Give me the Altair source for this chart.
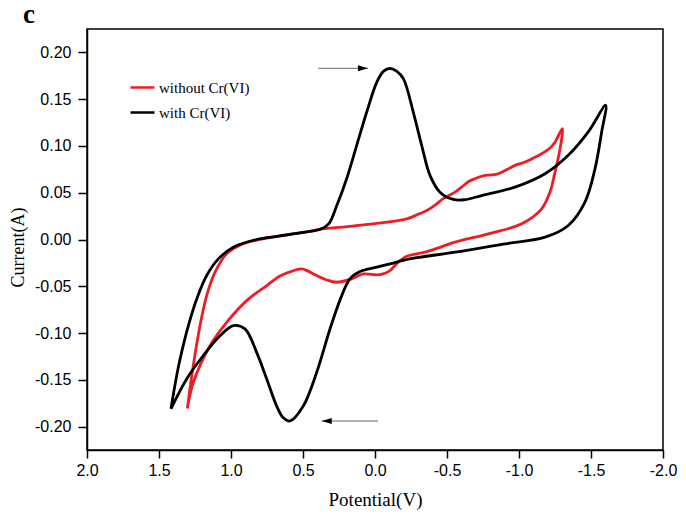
import altair as alt
import pandas as pd

# ---- data ----
# with Cr(VI): (Potential V, Current A) in scan order
with_v = [1.417, 1.385, 1.354, 1.296, 1.238, 1.169, 1.088, 0.984, 0.822, 0.671, 0.50, 0.38, 0.32, 0.266,
          0.197, 0.127, 0.058, -0.012, -0.06, -0.104, -0.15, -0.197, -0.266, -0.324, -0.382, -0.451,
          -0.544, -0.62, -0.741, -0.972, -1.181, -1.342, -1.481, -1.602,
          -1.574, -1.528, -1.458, -1.342, -1.181, -0.903, -0.556, -0.241, -0.104, -0.012, 0.104, 0.174,
          0.231, 0.3125, 0.405, 0.498, 0.590, 0.64, 0.683, 0.752, 0.822, 0.903, 0.984, 1.076, 1.192,
          1.308, 1.417]
with_i = [-0.181, -0.152, -0.128, -0.092, -0.0635, -0.0385, -0.0207, -0.0082, 0.000, 0.0036, 0.0075, 0.011, 0.017, 0.036,
          0.065, 0.1006, 0.136, 0.168, 0.180, 0.183, 0.180, 0.172, 0.136, 0.1006, 0.0685, 0.0506,
          0.0428, 0.0425, 0.047, 0.056, 0.0703, 0.090, 0.115, 0.1435,
          0.115, 0.0757, 0.040, 0.015, 0.0025, -0.0046, -0.0136, -0.0207, -0.026, -0.0296, -0.0343, -0.042,
          -0.060, -0.0956, -0.142, -0.178, -0.194, -0.190, -0.178, -0.149, -0.1206, -0.0956, -0.092, -0.103, -0.124,
          -0.149, -0.181]

# without Cr(VI)
without_v = [1.303, 1.262, 1.215, 1.169, 1.111, 1.030, 0.915, 0.80, 0.671, 0.50, 0.38, 0.222, 0.0, -0.15,
             -0.22, -0.30, -0.36, -0.42, -0.474, -0.556, -0.602, -0.65, -0.694, -0.764, -0.81, -0.856,
             -0.92, -0.972, -1.042, -1.10, -1.157, -1.21, -1.25, -1.301,
             -1.285, -1.25, -1.215, -1.157, -1.019, -0.787, -0.556, -0.36, -0.22, -0.15, -0.104, -0.05,
             -0.012, 0.081, 0.162, 0.266, 0.34, 0.405, 0.509, 0.58, 0.660, 0.752, 0.891, 1.030, 1.146,
             1.262, 1.303]
without_i = [-0.1806, -0.135, -0.092, -0.060, -0.035, -0.0153, -0.0046, 0.000, 0.0036, 0.0075, 0.0110, 0.0132, 0.017, 0.020,
             0.022, 0.027, 0.031, 0.037, 0.0436, 0.0506, 0.056, 0.062, 0.065, 0.0685, 0.069, 0.0703,
             0.075, 0.0792, 0.0828, 0.087, 0.0917, 0.097, 0.104, 0.1185,
             0.097, 0.072, 0.0506, 0.0328, 0.0168, 0.0061, -0.0029, -0.013, -0.018, -0.026, -0.0332, -0.037,
             -0.0378, -0.0368, -0.042, -0.0457, -0.043, -0.0385, -0.0314, -0.034, -0.039, -0.0493, -0.0653, -0.0885, -0.1135,
             -0.153, -0.1806]

series_names = ["without Cr(VI)", "with Cr(VI)"]
series_colors = ["#ee1c24", "#000000"]

# scan-direction arrows (potential range, current level)
arrow_y = [0.183, -0.194]
arrow_from = [0.394, -0.021]
arrow_to = [0.049, 0.370]
arrow_dir = ["right", "left"]

panel_label = ["c"]

x_ticks = [round(-2.0 + 0.25 * k, 2) for k in range(17)]
y_ticks = [round(-0.2 + 0.025 * k, 3) for k in range(17)]

# ---- build tables ----
rows = []
for k, (v, i) in enumerate(zip(without_v, without_i)):
    rows.append({"V": v, "I": i, "series": series_names[0], "idx": k})
for k, (v, i) in enumerate(zip(with_v, with_i)):
    rows.append({"V": v, "I": i, "series": series_names[1], "idx": k})
df = pd.DataFrame(rows)

arr = pd.DataFrame({"y": arrow_y, "x1": arrow_from, "x2": arrow_to, "dir": arrow_dir})

MINUS = "\u2212"
x_major = "abs(datum.value*2 - round(datum.value*2)) < 1e-6"
y_major = "abs(datum.value*20 - round(datum.value*20)) < 1e-6"

x_scale = alt.Scale(domain=[-2.0, 2.0], reverse=True, nice=False, zero=False)
y_scale = alt.Scale(domain=[-0.225, 0.225], nice=False, zero=False)

x_axis = alt.Axis(
    values=x_ticks,
    labelExpr=f"{x_major} ? replace(format(datum.value, '.1f'), '{MINUS}', '-') : ''",
    tickSize={"condition": {"test": x_major, "value": 8}, "value": 5},
    labelOverlap=False, labelFlush=False, grid=False,
    labelFont="Liberation Sans", labelFontSize=16, labelPadding=4,
    title="Potential(V)", titleFont="Liberation Serif", titleFontSize=19,
    titleFontWeight="normal", titlePadding=12,
)
y_axis = alt.Axis(
    values=y_ticks,
    labelExpr=f"{y_major} ? replace(format(datum.value, '.2f'), '{MINUS}', '-') : ''",
    tickSize={"condition": {"test": y_major, "value": 9}, "value": 5},
    labelOverlap=False, labelFlush=False, grid=False,
    labelFont="Liberation Sans", labelFontSize=16, labelPadding=7,
    title="Current(A)", titleFont="Liberation Serif", titleFontSize=18,
    titleFontWeight="normal", titlePadding=7, titleY=218,
)

lines = alt.Chart(df).mark_line(strokeWidth=2.8, interpolate="catmull-rom").encode(
    x=alt.X("V:Q", scale=x_scale, axis=x_axis),
    y=alt.Y("I:Q", scale=y_scale, axis=y_axis),
    color=alt.Color(
        "series:N",
        scale=alt.Scale(domain=series_names, range=series_colors),
        legend=alt.Legend(
            orient="none", legendX=42, legendY=45, title=None, padding=0,
            symbolType="stroke", symbolSize=576, symbolStrokeWidth=2.5,
            labelFont="Liberation Serif", labelFontSize=15, labelColor="black",
            labelOffset=3, rowPadding=3,
        ),
    ),
    order="idx:Q",
)

arrow_lines = alt.Chart(arr).mark_rule(color="#666666", strokeWidth=1).encode(
    x="x1:Q", x2="x2:Q", y="y:Q"
)

head_right = "M0,0L-2,-0.6L-2,0.6Z"
head_left = "M0,0L2,-0.6L2,0.6Z"
arrow_heads = alt.Chart(arr).mark_point(filled=True, size=100, color="black", opacity=1).encode(
    x="x2:Q", y="y:Q",
    shape=alt.Shape("dir:N", scale=alt.Scale(domain=["right", "left"], range=[head_right, head_left]), legend=None),
)

label = alt.Chart(pd.DataFrame({"t": panel_label})).mark_text(
    font="Liberation Serif", fontSize=27, fontWeight="bold", color="black",
    align="left", baseline="alphabetic",
).encode(text="t:N", x=alt.value(-64), y=alt.value(-6))

chart = alt.layer(lines, arrow_lines, arrow_heads, label).properties(
    width=576, height=421,
    autosize=alt.AutoSizeParams(type="none"),
    padding={"left": 79, "top": 21, "right": 15, "bottom": 64},
).configure_view(stroke="black", strokeWidth=1.5).configure_axis(
    domainColor="black", domainWidth=1.5, tickColor="black", tickWidth=1.5,
    labelColor="black", titleColor="black",
)

chart.save("out.html", embed_options={"renderer": "svg", "actions": False})
